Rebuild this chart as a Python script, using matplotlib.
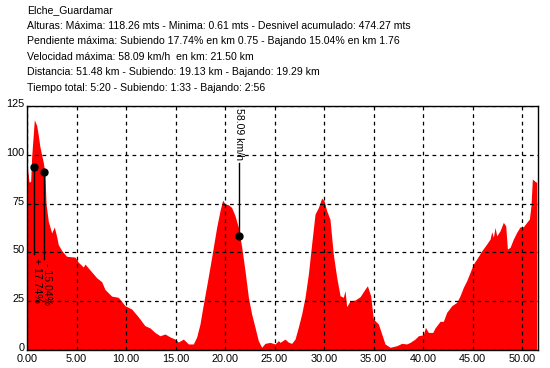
import matplotlib.pyplot as plt
import matplotlib.transforms as mtransforms

plt.rcParams['font.family'] = ['Liberation Sans', 'DejaVu Sans']

# header lines
title_lines = [
    "Elche_Guardamar",
    "Alturas: Máxima: 118.26 mts - Minima: 0.61 mts - Desnivel acumulado: 474.27 mts",
    "Pendiente máxima: Subiendo 17.74% en km 0.75 - Bajando 15.04% en km 1.76",
    "Velocidad máxima: 58.09 km/h  en km: 21.50 km",
    "Distancia: 51.48 km - Subiendo: 19.13 km - Bajando: 19.29 km",
    "Tiempo total: 5:20 - Subiendo: 1:33 - Bajando: 2:56",
]

# elevation profile (km, m)
km = [0.0, 0.07, 0.2, 0.37, 0.47, 0.6, 0.74, 0.98, 1.14, 1.31, 1.48, 1.65, 1.82, 1.92,
      2.15, 2.49, 2.76, 3.0, 3.16, 3.5, 4.0, 4.85, 5.18, 5.69, 5.86, 6.53, 7.04, 7.54,
      7.88, 8.55, 9.22, 9.9, 10.57, 11.24, 11.9, 12.42, 12.93, 13.43, 13.94, 14.44,
      14.95, 15.29, 15.79, 16.3, 16.8, 17.14, 17.47, 17.81, 18.15, 18.48, 18.82, 19.16,
      19.49, 19.76, 20.0, 20.34, 20.67, 21.01, 21.35, 21.69, 22.02, 22.36, 22.69, 23.03,
      23.36, 23.7, 24.04, 24.55, 25.05, 25.39, 25.56, 26.06, 26.4, 26.73, 27.07, 27.4,
      27.74, 28.08, 28.42, 28.75, 29.09, 29.43, 29.76, 30.0, 30.27, 30.6, 30.94, 31.28,
      31.62, 31.95, 32.12, 32.29, 32.63, 33.13, 33.64, 34.14, 34.38, 34.71, 34.98, 35.49,
      35.83, 36.16, 36.67, 37.34, 37.85, 38.35, 38.69, 39.19, 39.53, 40.03, 40.24, 40.54,
      40.98, 41.21, 41.72, 42.05, 42.39, 42.9, 43.4, 43.74, 44.07, 44.41, 44.75, 45.08,
      45.42, 45.93, 46.43, 46.77, 46.94, 47.1, 47.27, 47.44, 47.78, 48.11, 48.35, 48.52,
      48.79, 49.12, 49.46, 49.8, 50.13, 50.47, 50.74, 50.9, 51.04, 51.31, 51.48]
alt = [92.3, 92.3, 86.0, 86.5, 99.0, 108.0, 118.0, 115.0, 110.0, 104.0, 100.0, 96.0, 90.0, 75.0,
       66.0, 60.0, 63.0, 58.0, 54.0, 51.0, 48.0, 47.6, 45.0, 42.5, 44.0, 40.0, 37.0, 35.0,
       31.0, 27.6, 27.0, 22.7, 21.0, 17.0, 12.5, 11.3, 9.0, 7.3, 8.2, 6.7,
       5.6, 4.1, 5.6, 3.1, 3.1, 6.7, 13.3, 23.5, 33.0, 42.5, 52.7, 63.0,
       71.3, 76.8, 74.8, 74.4, 73.0, 68.8, 62.8, 52.6, 40.6, 27.0, 18.4, 11.6,
       4.8, 1.4, 3.4, 3.9, 3.1, 4.8, 3.9, 5.6, 4.0, 3.4, 5.6, 11.6,
       18.4, 27.0, 39.0, 54.3, 69.6, 73.0, 77.8, 76.5, 71.3, 67.0, 49.0, 37.2,
       27.8, 27.0, 30.4, 22.2, 25.2, 25.6, 27.3, 31.2, 32.9, 27.8, 15.9, 13.3,
       8.2, 3.1, 1.4, 2.2, 3.4, 3.1, 3.9, 5.6, 7.3, 7.8, 11.6, 9.0,
       9.0, 11.3, 14.7, 14.7, 19.3, 22.7, 24.4, 27.8, 32.1, 35.5, 39.8, 44.0,
       46.6, 50.8, 54.3, 56.8, 60.6, 57.7, 62.8, 58.5, 61.1, 65.4, 63.6, 51.7,
       52.6, 56.8, 60.3, 63.1, 63.1, 65.4, 67.1, 73.9, 87.6, 86.4, 85.9]

# slope markers: km, dot height, line bottom, label
slope_km = [0.74, 1.75]
slope_top = [93.5, 91.0]
slope_bottom = [49.0, 46.6]
slope_labels = ["+ 17.74%", "- 15.04%"]

speed_km = 21.45
speed_alt = 58.2
speed_label = "58.09 km/h"

fig = plt.figure(figsize=(5.5, 3.68), dpi=100)
ax = fig.add_axes([27 / 550, 18 / 368, 510.7 / 550, 244 / 368])

for i, line in enumerate(title_lines):
    fig.text(27 / 550, 1 - (10 + 15.6 * i) / 368, line, fontsize=7.6, va='center', ha='left')

ax.fill_between(km, alt, 0, color='#ff0000', linewidth=0, zorder=1)

for k, top, bot, lab in zip(slope_km, slope_top, slope_bottom, slope_labels):
    ax.plot([k, k], [bot, top], color='black', linewidth=1, zorder=4)
    ax.plot(k, top, 'o', color='black', markersize=5, zorder=5)
    ax.text(k + 0.25, bot - 2, lab, rotation=-90, fontsize=7.6, va='top', ha='center', zorder=5)

ax.plot([speed_km, speed_km], [speed_alt, 96], color='black', linewidth=1, zorder=4)
ax.plot(speed_km, speed_alt, 'o', color='black', markersize=5, zorder=5)
ax.text(speed_km, 124, speed_label, rotation=-90, fontsize=7.6, va='top', ha='center', zorder=5)

ax.set_xlim(0, 51.58)
ax.set_ylim(0, 125)
ax.set_xticks([0, 5, 10, 15, 20, 25, 30, 35, 40, 45, 50])
ax.set_xticklabels(["%.2f" % v for v in [0, 5, 10, 15, 20, 25, 30, 35, 40, 45, 50]])
ax.set_yticks([0, 25, 50, 75, 100, 125])
ax.tick_params(length=0, labelsize=7.8, pad=2)
ax.tick_params(axis='x', pad=3)
ax.set_axisbelow(False)
ax.grid(True, color='black', linestyle=(0, (3, 3)), linewidth=0.9)
for s in ax.spines.values():
    s.set_linewidth(1)

# y labels sit a little above their grid lines
shift = mtransforms.ScaledTranslation(0, 3 / 100, fig.dpi_scale_trans)
for lbl in ax.get_yticklabels():
    lbl.set_transform(lbl.get_transform() + shift)

fig.savefig('out.png', dpi=100)
